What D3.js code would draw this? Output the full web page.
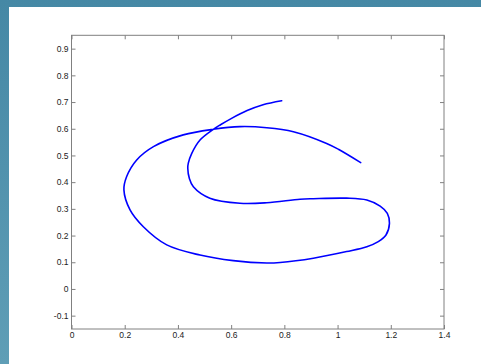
<!DOCTYPE html>
<html>
<head>
<meta charset="utf-8">
<script src="https://cdn.jsdelivr.net/npm/d3@7/dist/d3.min.js"></script>
<style>
  html, body { margin: 0; padding: 0; background: #fff; }
  svg { display: block; }
  .tick text { font-family: "Liberation Sans", Arial, sans-serif; font-size: 8.5px; fill: #222; }
</style>
</head>
<body>
<svg id="chart" width="481" height="364"></svg>
<script>
// Curve data (x, y)
const xValues = [0.790, 0.720, 0.660, 0.600, 0.560, 0.533, 0.483, 0.452, 0.439, 0.437, 0.443, 0.458, 0.520, 0.633, 0.734, 0.859, 0.909, 1.034, 1.110, 1.160, 1.187, 1.195, 1.182, 1.153, 1.110, 1.034, 0.909, 0.784, 0.734, 0.608, 0.483, 0.358, 0.270, 0.220, 0.197, 0.207, 0.245, 0.308, 0.420, 0.533, 0.633, 0.734, 0.834, 0.959, 1.003, 1.087];
const yValues = [0.705, 0.690, 0.668, 0.638, 0.615, 0.598, 0.558, 0.508, 0.471, 0.452, 0.414, 0.383, 0.340, 0.321, 0.323, 0.336, 0.338, 0.340, 0.333, 0.310, 0.283, 0.246, 0.202, 0.177, 0.158, 0.140, 0.115, 0.099, 0.097, 0.106, 0.127, 0.165, 0.233, 0.296, 0.371, 0.420, 0.483, 0.533, 0.577, 0.598, 0.608, 0.604, 0.589, 0.545, 0.523, 0.473];
const xTicks = [0, 0.2, 0.4, 0.6, 0.8, 1, 1.2, 1.4];
const yTicks = [-0.1, 0, 0.1, 0.2, 0.3, 0.4, 0.5, 0.6, 0.7, 0.8, 0.9];
const xDomain = [0, 1.4];
const yDomain = [-0.15, 0.95];

const svg = d3.select("#chart");
const W = 481, H = 364;

// frame background
const defs = svg.append("defs");
const grad = defs.append("linearGradient").attr("id", "frameGrad")
  .attr("x1", 0).attr("y1", 0).attr("x2", 0).attr("y2", 1);
grad.append("stop").attr("offset", "0%").attr("stop-color", "#4588a5");
grad.append("stop").attr("offset", "100%").attr("stop-color", "#5f9eb6");
svg.append("rect").attr("width", W).attr("height", H).attr("fill", "url(#frameGrad)");
svg.append("rect").attr("x", 9).attr("y", 7).attr("width", W - 9).attr("height", H - 7).attr("fill", "#fff");

const L = 71.5, R = 444, T = 35.3, B = 329;
const x = d3.scaleLinear().domain(xDomain).range([L, R]);
const y = d3.scaleLinear().domain(yDomain).range([B, T]);
const fmt = d => String(d);
const axisColor = "#808080";

function styleAxis(g) {
  g.select(".domain").remove();
  g.selectAll(".tick line").attr("stroke", axisColor);
}

svg.append("g").attr("transform", `translate(0,${B})`)
  .call(d3.axisBottom(x).tickValues(xTicks).tickFormat(fmt).tickSizeInner(-4).tickSizeOuter(0).tickPadding(3))
  .call(styleAxis);
svg.append("g").attr("transform", `translate(0,${T})`)
  .call(d3.axisTop(x).tickValues(xTicks).tickFormat("").tickSizeInner(-4).tickSizeOuter(0))
  .call(styleAxis);
svg.append("g").attr("transform", `translate(${L},0)`)
  .call(d3.axisLeft(y).tickValues(yTicks).tickFormat(fmt).tickSizeInner(-4).tickSizeOuter(0).tickPadding(3))
  .call(styleAxis);
svg.append("g").attr("transform", `translate(${R},0)`)
  .call(d3.axisRight(y).tickValues(yTicks).tickFormat("").tickSizeInner(-4).tickSizeOuter(0))
  .call(styleAxis);

svg.append("rect").attr("x", L).attr("y", T).attr("width", R - L).attr("height", B - T)
  .attr("fill", "none").attr("stroke", axisColor).attr("stroke-width", 1);

const pts = xValues.map((v, i) => [v, yValues[i]]);
const line = d3.line().x(d => x(d[0])).y(d => y(d[1])).curve(d3.curveCatmullRom.alpha(0.5));
svg.append("path").datum(pts).attr("d", line)
  .attr("fill", "none").attr("stroke", "#0000ff").attr("stroke-width", 1.6)
  .attr("stroke-linejoin", "round").attr("stroke-linecap", "round");
</script>
</body>
</html>
